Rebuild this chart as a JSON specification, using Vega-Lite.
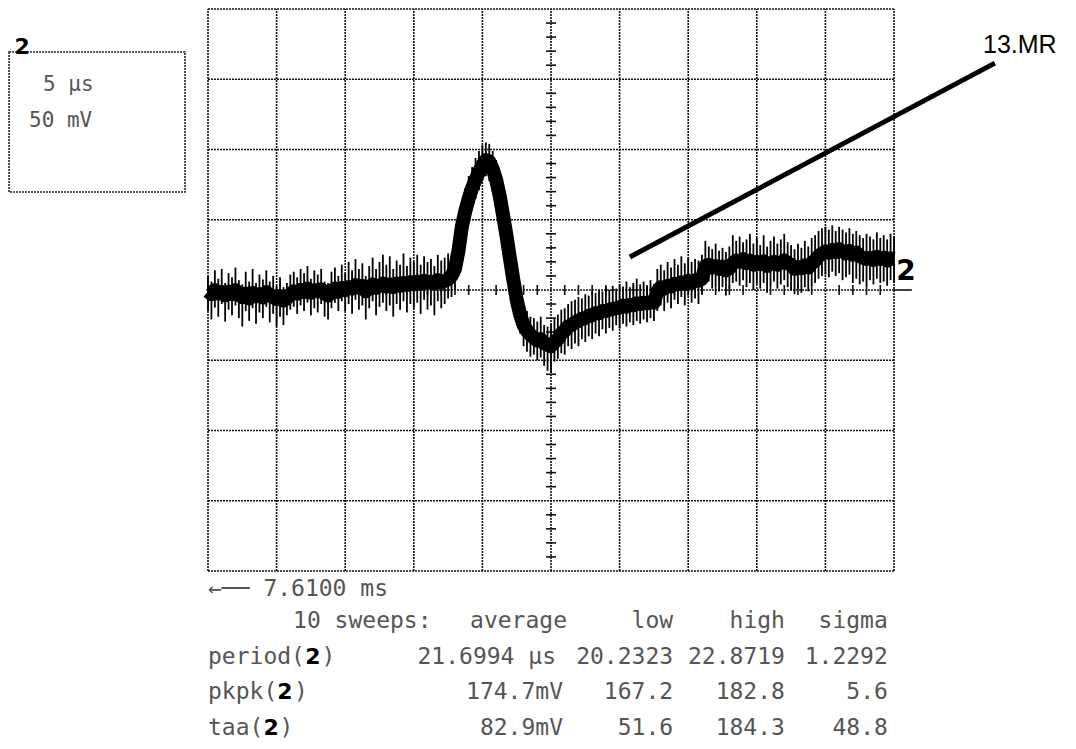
{
  "$schema": "https://vega.github.io/schema/vega-lite/v6.json",
  "width": 1076,
  "height": 749,
  "padding": 0,
  "autosize": {"type": "none"},
  "background": "white",
  "config": {"view": {"stroke": null}},
  "datasets": {
    "grid_v": [{"t":0},{"t":1},{"t":2},{"t":3},{"t":4},{"t":5},{"t":6},{"t":7},{"t":8},{"t":9},{"t":10}],
    "grid_h": [{"v":-4},{"v":-3},{"v":-2},{"v":-1},{"v":0},{"v":1},{"v":2},{"v":3},{"v":4}],
    "ticks_v": [{"v":-3.8},{"v":-3.6},{"v":-3.4},{"v":-3.2},{"v":-2.8},{"v":-2.6},{"v":-2.4},{"v":-2.2},{"v":-1.8},{"v":-1.6},{"v":-1.4},{"v":-1.2},{"v":-0.8},{"v":-0.6},{"v":-0.4},{"v":-0.2},{"v":0.2},{"v":0.4},{"v":0.6},{"v":0.8},{"v":1.2},{"v":1.4},{"v":1.6},{"v":1.8},{"v":2.2},{"v":2.4},{"v":2.6},{"v":2.8},{"v":3.2},{"v":3.4},{"v":3.6},{"v":3.8}],
    "ticks_h": [{"t":0.2},{"t":0.4},{"t":0.6},{"t":0.8},{"t":1.2},{"t":1.4},{"t":1.6},{"t":1.8},{"t":2.2},{"t":2.4},{"t":2.6},{"t":2.8},{"t":3.2},{"t":3.4},{"t":3.6},{"t":3.8},{"t":4.2},{"t":4.4},{"t":4.6},{"t":4.8},{"t":5.2},{"t":5.4},{"t":5.6},{"t":5.8},{"t":6.2},{"t":6.4},{"t":6.6},{"t":6.8},{"t":7.2},{"t":7.4},{"t":7.6},{"t":7.8},{"t":8.2},{"t":8.4},{"t":8.6},{"t":8.8},{"t":9.2},{"t":9.4},{"t":9.6},{"t":9.8}],
    "trace": [
      {"t":0.00,"c":-0.02,"l":-0.30,"h":0.20},{"t":0.05,"c":-0.06,"l":-0.42,"h":0.12},{"t":0.10,"c":0.00,"l":-0.25,"h":0.28},{"t":0.15,"c":-0.05,"l":-0.38,"h":0.16},
      {"t":0.20,"c":-0.03,"l":-0.20,"h":0.30},{"t":0.25,"c":-0.08,"l":-0.45,"h":0.10},{"t":0.30,"c":-0.02,"l":-0.28,"h":0.24},{"t":0.35,"c":-0.06,"l":-0.36,"h":0.18},
      {"t":0.40,"c":0.00,"l":-0.22,"h":0.32},{"t":0.45,"c":-0.07,"l":-0.40,"h":0.14},{"t":0.50,"c":-0.10,"l":-0.52,"h":0.08},{"t":0.55,"c":-0.05,"l":-0.30,"h":0.26},
      {"t":0.60,"c":-0.12,"l":-0.44,"h":0.12},{"t":0.65,"c":-0.04,"l":-0.26,"h":0.30},{"t":0.70,"c":-0.09,"l":-0.48,"h":0.10},{"t":0.75,"c":-0.06,"l":-0.32,"h":0.22},
      {"t":0.80,"c":-0.11,"l":-0.40,"h":0.15},{"t":0.85,"c":-0.03,"l":-0.24,"h":0.28},{"t":0.90,"c":-0.08,"l":-0.46,"h":0.12},{"t":0.95,"c":-0.10,"l":-0.34,"h":0.20},
      {"t":1.00,"c":-0.13,"l":-0.52,"h":0.06},{"t":1.05,"c":-0.09,"l":-0.38,"h":0.18},{"t":1.10,"c":-0.15,"l":-0.50,"h":0.04},{"t":1.15,"c":-0.12,"l":-0.36,"h":0.10},
      {"t":1.20,"c":-0.06,"l":-0.28,"h":0.22},{"t":1.25,"c":-0.02,"l":-0.24,"h":0.26},{"t":1.30,"c":-0.05,"l":-0.34,"h":0.18},{"t":1.35,"c":0.00,"l":-0.22,"h":0.30},
      {"t":1.40,"c":-0.03,"l":-0.30,"h":0.24},{"t":1.45,"c":0.02,"l":-0.18,"h":0.34},{"t":1.50,"c":-0.04,"l":-0.36,"h":0.16},{"t":1.55,"c":0.00,"l":-0.26,"h":0.28},
      {"t":1.60,"c":-0.02,"l":-0.32,"h":0.22},{"t":1.65,"c":0.01,"l":-0.20,"h":0.30},{"t":1.70,"c":-0.05,"l":-0.38,"h":0.12},{"t":1.75,"c":-0.08,"l":-0.42,"h":0.10},
      {"t":1.80,"c":-0.02,"l":-0.26,"h":0.26},{"t":1.85,"c":0.02,"l":-0.18,"h":0.32},{"t":1.90,"c":-0.03,"l":-0.30,"h":0.20},{"t":1.95,"c":0.03,"l":-0.16,"h":0.36},
      {"t":2.00,"c":0.00,"l":-0.30,"h":0.24},{"t":2.05,"c":0.04,"l":-0.20,"h":0.40},{"t":2.10,"c":0.02,"l":-0.34,"h":0.28},{"t":2.15,"c":0.07,"l":-0.14,"h":0.44},
      {"t":2.20,"c":0.03,"l":-0.28,"h":0.30},{"t":2.25,"c":0.06,"l":-0.22,"h":0.38},{"t":2.30,"c":-0.02,"l":-0.42,"h":0.20},{"t":2.35,"c":0.04,"l":-0.26,"h":0.34},
      {"t":2.40,"c":0.08,"l":-0.16,"h":0.46},{"t":2.45,"c":0.03,"l":-0.36,"h":0.30},{"t":2.50,"c":0.06,"l":-0.24,"h":0.40},{"t":2.55,"c":0.09,"l":-0.18,"h":0.50},
      {"t":2.60,"c":0.05,"l":-0.30,"h":0.36},{"t":2.65,"c":0.08,"l":-0.22,"h":0.48},{"t":2.70,"c":0.04,"l":-0.38,"h":0.30},{"t":2.75,"c":0.09,"l":-0.20,"h":0.42},
      {"t":2.80,"c":0.06,"l":-0.28,"h":0.36},{"t":2.85,"c":0.10,"l":-0.16,"h":0.52},{"t":2.90,"c":0.07,"l":-0.32,"h":0.34},{"t":2.95,"c":0.11,"l":-0.20,"h":0.46},
      {"t":3.00,"c":0.08,"l":-0.26,"h":0.40},{"t":3.05,"c":0.12,"l":-0.18,"h":0.50},{"t":3.10,"c":0.09,"l":-0.34,"h":0.36},{"t":3.15,"c":0.13,"l":-0.14,"h":0.48},
      {"t":3.20,"c":0.10,"l":-0.28,"h":0.40},{"t":3.25,"c":0.12,"l":-0.22,"h":0.44},{"t":3.30,"c":0.09,"l":-0.36,"h":0.34},{"t":3.35,"c":0.14,"l":-0.16,"h":0.50},
      {"t":3.40,"c":0.11,"l":-0.26,"h":0.42},{"t":3.45,"c":0.13,"l":-0.20,"h":0.46},{"t":3.50,"c":0.15,"l":-0.12,"h":0.52},{"t":3.55,"c":0.20,"l":-0.10,"h":0.50},
      {"t":3.60,"c":0.30,"l":0.00,"h":0.60},{"t":3.65,"c":0.55,"l":0.20,"h":0.85},{"t":3.70,"c":0.90,"l":0.55,"h":1.20},{"t":3.75,"c":1.12,"l":0.80,"h":1.45},
      {"t":3.80,"c":1.30,"l":1.00,"h":1.62},{"t":3.85,"c":1.45,"l":1.15,"h":1.75},{"t":3.90,"c":1.57,"l":1.30,"h":1.88},{"t":3.95,"c":1.68,"l":1.42,"h":1.98},
      {"t":4.00,"c":1.78,"l":1.55,"h":2.06},{"t":4.05,"c":1.85,"l":1.62,"h":2.10},{"t":4.10,"c":1.83,"l":1.55,"h":2.08},{"t":4.15,"c":1.72,"l":1.40,"h":1.98},
      {"t":4.20,"c":1.57,"l":1.22,"h":1.85},{"t":4.25,"c":1.35,"l":1.00,"h":1.65},{"t":4.30,"c":1.07,"l":0.75,"h":1.40},{"t":4.35,"c":0.78,"l":0.45,"h":1.10},
      {"t":4.40,"c":0.46,"l":0.15,"h":0.78},{"t":4.45,"c":0.15,"l":-0.15,"h":0.45},{"t":4.50,"c":-0.14,"l":-0.42,"h":0.12},{"t":4.55,"c":-0.35,"l":-0.62,"h":-0.08},
      {"t":4.60,"c":-0.50,"l":-0.80,"h":-0.22},{"t":4.65,"c":-0.58,"l":-0.88,"h":-0.30},{"t":4.70,"c":-0.64,"l":-0.95,"h":-0.38},{"t":4.75,"c":-0.68,"l":-0.92,"h":-0.40},
      {"t":4.80,"c":-0.72,"l":-1.00,"h":-0.45},{"t":4.85,"c":-0.70,"l":-0.96,"h":-0.38},{"t":4.90,"c":-0.76,"l":-1.08,"h":-0.50},{"t":4.95,"c":-0.78,"l":-1.15,"h":-0.52},
      {"t":5.00,"c":-0.80,"l":-1.18,"h":-0.48},{"t":5.05,"c":-0.74,"l":-1.02,"h":-0.40},{"t":5.10,"c":-0.70,"l":-0.98,"h":-0.35},{"t":5.15,"c":-0.62,"l":-0.90,"h":-0.28},
      {"t":5.20,"c":-0.58,"l":-0.92,"h":-0.26},{"t":5.25,"c":-0.52,"l":-0.80,"h":-0.20},{"t":5.30,"c":-0.50,"l":-0.84,"h":-0.16},{"t":5.35,"c":-0.46,"l":-0.76,"h":-0.14},
      {"t":5.40,"c":-0.44,"l":-0.80,"h":-0.10},{"t":5.45,"c":-0.41,"l":-0.70,"h":-0.12},{"t":5.50,"c":-0.40,"l":-0.74,"h":-0.06},{"t":5.55,"c":-0.37,"l":-0.66,"h":-0.08},
      {"t":5.60,"c":-0.36,"l":-0.70,"h":-0.02},{"t":5.65,"c":-0.33,"l":-0.62,"h":-0.04},{"t":5.70,"c":-0.33,"l":-0.66,"h":0.00},{"t":5.75,"c":-0.30,"l":-0.56,"h":-0.02},
      {"t":5.80,"c":-0.30,"l":-0.62,"h":0.04},{"t":5.85,"c":-0.28,"l":-0.54,"h":0.00},{"t":5.90,"c":-0.27,"l":-0.58,"h":0.06},{"t":5.95,"c":-0.26,"l":-0.50,"h":0.02},
      {"t":6.00,"c":-0.25,"l":-0.55,"h":0.08},{"t":6.05,"c":-0.22,"l":-0.48,"h":0.05},{"t":6.10,"c":-0.24,"l":-0.52,"h":0.12},{"t":6.15,"c":-0.21,"l":-0.46,"h":0.04},
      {"t":6.20,"c":-0.22,"l":-0.50,"h":0.10},{"t":6.25,"c":-0.19,"l":-0.44,"h":0.16},{"t":6.30,"c":-0.20,"l":-0.48,"h":0.08},{"t":6.35,"c":-0.18,"l":-0.42,"h":0.12},
      {"t":6.40,"c":-0.19,"l":-0.46,"h":0.06},{"t":6.45,"c":-0.17,"l":-0.40,"h":0.14},{"t":6.50,"c":-0.18,"l":-0.44,"h":0.08},{"t":6.55,"c":-0.02,"l":-0.30,"h":0.30},
      {"t":6.60,"c":0.04,"l":-0.22,"h":0.36},{"t":6.65,"c":0.02,"l":-0.30,"h":0.28},{"t":6.70,"c":0.06,"l":-0.18,"h":0.40},{"t":6.75,"c":0.05,"l":-0.26,"h":0.32},
      {"t":6.80,"c":0.09,"l":-0.14,"h":0.44},{"t":6.85,"c":0.08,"l":-0.20,"h":0.36},{"t":6.90,"c":0.11,"l":-0.10,"h":0.48},{"t":6.95,"c":0.09,"l":-0.22,"h":0.38},
      {"t":7.00,"c":0.13,"l":-0.08,"h":0.46},{"t":7.05,"c":0.10,"l":-0.18,"h":0.40},{"t":7.10,"c":0.14,"l":-0.12,"h":0.44},{"t":7.15,"c":0.13,"l":-0.20,"h":0.42},
      {"t":7.20,"c":0.16,"l":-0.06,"h":0.50},{"t":7.25,"c":0.34,"l":0.08,"h":0.70},{"t":7.30,"c":0.36,"l":0.12,"h":0.62},{"t":7.35,"c":0.32,"l":0.02,"h":0.58},
      {"t":7.40,"c":0.34,"l":0.06,"h":0.66},{"t":7.45,"c":0.30,"l":-0.02,"h":0.56},{"t":7.50,"c":0.33,"l":0.04,"h":0.60},{"t":7.55,"c":0.28,"l":-0.08,"h":0.54},
      {"t":7.60,"c":0.31,"l":0.02,"h":0.62},{"t":7.65,"c":0.38,"l":0.10,"h":0.78},{"t":7.70,"c":0.42,"l":0.12,"h":0.70},{"t":7.75,"c":0.40,"l":0.06,"h":0.76},
      {"t":7.80,"c":0.44,"l":0.14,"h":0.68},{"t":7.85,"c":0.38,"l":0.04,"h":0.72},{"t":7.90,"c":0.42,"l":0.10,"h":0.80},{"t":7.95,"c":0.36,"l":0.00,"h":0.66},
      {"t":8.00,"c":0.40,"l":0.08,"h":0.74},{"t":8.05,"c":0.37,"l":0.02,"h":0.64},{"t":8.10,"c":0.41,"l":0.10,"h":0.78},{"t":8.15,"c":0.34,"l":-0.04,"h":0.62},
      {"t":8.20,"c":0.38,"l":0.06,"h":0.70},{"t":8.25,"c":0.40,"l":0.12,"h":0.76},{"t":8.30,"c":0.36,"l":0.02,"h":0.66},{"t":8.35,"c":0.39,"l":0.08,"h":0.72},
      {"t":8.40,"c":0.42,"l":0.14,"h":0.80},{"t":8.45,"c":0.38,"l":0.04,"h":0.68},{"t":8.50,"c":0.36,"l":0.00,"h":0.64},{"t":8.55,"c":0.30,"l":-0.06,"h":0.58},
      {"t":8.60,"c":0.33,"l":0.02,"h":0.66},{"t":8.65,"c":0.31,"l":-0.04,"h":0.60},{"t":8.70,"c":0.35,"l":0.04,"h":0.70},{"t":8.75,"c":0.32,"l":-0.02,"h":0.62},
      {"t":8.80,"c":0.38,"l":0.06,"h":0.74},{"t":8.85,"c":0.42,"l":0.10,"h":0.78},{"t":8.90,"c":0.48,"l":0.16,"h":0.84},{"t":8.95,"c":0.52,"l":0.20,"h":0.88},
      {"t":9.00,"c":0.55,"l":0.22,"h":0.90},{"t":9.05,"c":0.53,"l":0.18,"h":0.86},{"t":9.10,"c":0.57,"l":0.26,"h":0.92},{"t":9.15,"c":0.54,"l":0.20,"h":0.84},
      {"t":9.20,"c":0.58,"l":0.24,"h":0.90},{"t":9.25,"c":0.55,"l":0.14,"h":0.86},{"t":9.30,"c":0.52,"l":0.18,"h":0.82},{"t":9.35,"c":0.56,"l":0.22,"h":0.88},
      {"t":9.40,"c":0.50,"l":0.10,"h":0.80},{"t":9.45,"c":0.53,"l":0.16,"h":0.84},{"t":9.50,"c":0.48,"l":0.08,"h":0.78},{"t":9.55,"c":0.46,"l":0.12,"h":0.74},
      {"t":9.60,"c":0.44,"l":0.06,"h":0.80},{"t":9.65,"c":0.46,"l":0.14,"h":0.76},{"t":9.70,"c":0.43,"l":0.08,"h":0.72},{"t":9.75,"c":0.47,"l":0.16,"h":0.82},
      {"t":9.80,"c":0.44,"l":0.10,"h":0.74},{"t":9.85,"c":0.46,"l":0.12,"h":0.78},{"t":9.90,"c":0.42,"l":0.06,"h":0.72},{"t":9.95,"c":0.45,"l":0.14,"h":0.80},
      {"t":10.00,"c":0.44,"l":0.10,"h":0.76}
    ],
    "leader": [{"t":6.15,"v":0.47,"t2":11.47,"v2":3.23}],
    "ext": [{"t":10,"v":0,"t2":10.26}],
    "box": [{"t":-2.90,"v":3.388,"t2":-0.335,"v2":1.395}],
    "box_text": [{"t":-2.405,"v":2.918,"s":"5 µs"},{"t":-2.609,"v":2.406,"s":"50 mV"}],
    "text_left": [
      {"t":0,"v":-4.256,"s":"←── 7.6100 ms"},
      {"t":1.24,"v":-4.712,"s":"10 sweeps:"},
      {"t":0,"v":-5.224,"s":"period("},
      {"t":1.655,"v":-5.224,"s":")"},
      {"t":0,"v":-5.722,"s":"pkpk("},
      {"t":1.254,"v":-5.722,"s":")"},
      {"t":0,"v":-6.235,"s":"taa("},
      {"t":1.043,"v":-6.235,"s":")"}
    ],
    "text_right": [
      {"t":5.233,"v":-4.712,"s":"average"},{"t":5.073,"v":-5.224,"s":"21.6994 µs"},{"t":5.175,"v":-5.722,"s":"174.7mV"},{"t":5.175,"v":-6.235,"s":"82.9mV"},
      {"t":6.78,"v":-4.712,"s":"low"},{"t":6.78,"v":-5.224,"s":"20.2323"},{"t":6.78,"v":-5.722,"s":"167.2"},{"t":6.78,"v":-6.235,"s":"51.6"},
      {"t":8.41,"v":-4.712,"s":"high"},{"t":8.41,"v":-5.224,"s":"22.8719"},{"t":8.41,"v":-5.722,"s":"182.8"},{"t":8.41,"v":-6.235,"s":"184.3"},
      {"t":9.91,"v":-4.712,"s":"sigma"},{"t":9.91,"v":-5.224,"s":"1.2292"},{"t":9.91,"v":-5.722,"s":"5.6"},{"t":9.91,"v":-6.235,"s":"48.8"}
    ],
    "bold2": [{"t":1.531,"v":-5.224,"s":"2"},{"t":1.122,"v":-5.722,"s":"2"},{"t":0.921,"v":-6.235,"s":"2"},{"t":-2.71,"v":3.46,"s":"2"}],
    "marker2": [{"t":10.175,"v":0.256,"s":"2"}],
    "callout": [{"t":11.297,"v":3.374,"s":"13.MR"}]
  },
  "layer": [
    {
      "data": {"name": "grid_v"},
      "mark": {"type": "rule", "color": "#111", "strokeWidth": 1.6, "strokeDash": [2, 1]},
      "encoding": {
        "x": {"field": "t", "type": "quantitative", "scale": {"domain": [-3.032, 12.653], "nice": false, "zero": false}, "axis": null},
        "y": {"datum": -4, "type": "quantitative", "scale": {"domain": [-6.534, 4.128], "nice": false, "zero": false}, "axis": null},
        "y2": {"datum": 4}
      }
    },
    {
      "data": {"name": "grid_h"},
      "mark": {"type": "rule", "color": "#111", "strokeWidth": 1.6, "strokeDash": [2, 1]},
      "encoding": {
        "y": {"field": "v", "type": "quantitative", "scale": {"domain": [-6.534, 4.128], "nice": false, "zero": false}, "axis": null},
        "x": {"datum": 0, "type": "quantitative", "scale": {"domain": [-3.032, 12.653], "nice": false, "zero": false}, "axis": null},
        "x2": {"datum": 10}
      }
    },
    {
      "data": {"name": "ext"},
      "mark": {"type": "rule", "color": "#111", "strokeWidth": 1.6},
      "encoding": {
        "x": {"field": "t", "type": "quantitative", "scale": {"domain": [-3.032, 12.653], "nice": false, "zero": false}, "axis": null},
        "x2": {"field": "t2"},
        "y": {"field": "v", "type": "quantitative", "scale": {"domain": [-6.534, 4.128], "nice": false, "zero": false}, "axis": null}
      }
    },
    {
      "data": {"name": "ticks_v"},
      "mark": {"type": "point", "shape": "M-1,0L1,0", "size": 100, "filled": false, "color": "#111", "strokeWidth": 1.6, "opacity": 1},
      "encoding": {
        "y": {"field": "v", "type": "quantitative", "scale": {"domain": [-6.534, 4.128], "nice": false, "zero": false}, "axis": null},
        "x": {"datum": 5, "type": "quantitative", "scale": {"domain": [-3.032, 12.653], "nice": false, "zero": false}, "axis": null}
      }
    },
    {
      "data": {"name": "ticks_h"},
      "mark": {"type": "point", "shape": "M0,-1L0,1", "size": 100, "filled": false, "color": "#111", "strokeWidth": 1.6, "opacity": 1},
      "encoding": {
        "x": {"field": "t", "type": "quantitative", "scale": {"domain": [-3.032, 12.653], "nice": false, "zero": false}, "axis": null},
        "y": {"datum": 0, "type": "quantitative", "scale": {"domain": [-6.534, 4.128], "nice": false, "zero": false}, "axis": null}
      }
    },
    {
      "data": {"name": "trace"},
      "mark": {"type": "rule", "color": "black", "strokeWidth": 1.8},
      "encoding": {
        "x": {"field": "t", "type": "quantitative", "scale": {"domain": [-3.032, 12.653], "nice": false, "zero": false}, "axis": null},
        "y": {"field": "l", "type": "quantitative", "scale": {"domain": [-6.534, 4.128], "nice": false, "zero": false}, "axis": null},
        "y2": {"field": "h"}
      }
    },
    {
      "data": {"name": "trace"},
      "mark": {"type": "line", "color": "black", "strokeWidth": 14, "strokeJoin": "round", "strokeCap": "butt"},
      "encoding": {
        "x": {"field": "t", "type": "quantitative", "scale": {"domain": [-3.032, 12.653], "nice": false, "zero": false}, "axis": null},
        "y": {"field": "c", "type": "quantitative", "scale": {"domain": [-6.534, 4.128], "nice": false, "zero": false}, "axis": null}
      }
    },
    {
      "data": {"name": "leader"},
      "mark": {"type": "rule", "color": "black", "strokeWidth": 5},
      "encoding": {
        "x": {"field": "t", "type": "quantitative", "scale": {"domain": [-3.032, 12.653], "nice": false, "zero": false}, "axis": null},
        "x2": {"field": "t2"},
        "y": {"field": "v", "type": "quantitative", "scale": {"domain": [-6.534, 4.128], "nice": false, "zero": false}, "axis": null},
        "y2": {"field": "v2"}
      }
    },
    {
      "data": {"name": "box"},
      "mark": {"type": "rect", "fill": null, "fillOpacity": 0, "stroke": "#222", "strokeWidth": 1.6, "strokeDash": [2, 1]},
      "encoding": {
        "x": {"field": "t", "type": "quantitative", "scale": {"domain": [-3.032, 12.653], "nice": false, "zero": false}, "axis": null},
        "x2": {"field": "t2"},
        "y": {"field": "v", "type": "quantitative", "scale": {"domain": [-6.534, 4.128], "nice": false, "zero": false}, "axis": null},
        "y2": {"field": "v2"}
      }
    },
    {
      "data": {"name": "box_text"},
      "mark": {"type": "text", "font": "DejaVu Sans Mono", "fontSize": 21, "align": "left", "baseline": "middle", "color": "#555"},
      "encoding": {
        "x": {"field": "t", "type": "quantitative", "scale": {"domain": [-3.032, 12.653], "nice": false, "zero": false}, "axis": null},
        "y": {"field": "v", "type": "quantitative", "scale": {"domain": [-6.534, 4.128], "nice": false, "zero": false}, "axis": null},
        "text": {"field": "s"}
      }
    },
    {
      "data": {"name": "text_left"},
      "mark": {"type": "text", "font": "DejaVu Sans Mono", "fontSize": 23, "align": "left", "baseline": "middle", "color": "#555"},
      "encoding": {
        "x": {"field": "t", "type": "quantitative", "scale": {"domain": [-3.032, 12.653], "nice": false, "zero": false}, "axis": null},
        "y": {"field": "v", "type": "quantitative", "scale": {"domain": [-6.534, 4.128], "nice": false, "zero": false}, "axis": null},
        "text": {"field": "s"}
      }
    },
    {
      "data": {"name": "text_right"},
      "mark": {"type": "text", "font": "DejaVu Sans Mono", "fontSize": 23, "align": "right", "baseline": "middle", "color": "#555"},
      "encoding": {
        "x": {"field": "t", "type": "quantitative", "scale": {"domain": [-3.032, 12.653], "nice": false, "zero": false}, "axis": null},
        "y": {"field": "v", "type": "quantitative", "scale": {"domain": [-6.534, 4.128], "nice": false, "zero": false}, "axis": null},
        "text": {"field": "s"}
      }
    },
    {
      "data": {"name": "bold2"},
      "mark": {"type": "text", "font": "DejaVu Sans", "fontSize": 22, "fontWeight": "bold", "align": "center", "baseline": "middle", "color": "black"},
      "encoding": {
        "x": {"field": "t", "type": "quantitative", "scale": {"domain": [-3.032, 12.653], "nice": false, "zero": false}, "axis": null},
        "y": {"field": "v", "type": "quantitative", "scale": {"domain": [-6.534, 4.128], "nice": false, "zero": false}, "axis": null},
        "text": {"field": "s"}
      }
    },
    {
      "data": {"name": "marker2"},
      "mark": {"type": "text", "font": "DejaVu Sans", "fontSize": 28, "fontWeight": "bold", "align": "center", "baseline": "middle", "color": "black"},
      "encoding": {
        "x": {"field": "t", "type": "quantitative", "scale": {"domain": [-3.032, 12.653], "nice": false, "zero": false}, "axis": null},
        "y": {"field": "v", "type": "quantitative", "scale": {"domain": [-6.534, 4.128], "nice": false, "zero": false}, "axis": null},
        "text": {"field": "s"}
      }
    },
    {
      "data": {"name": "callout"},
      "mark": {"type": "text", "font": "Liberation Sans", "fontSize": 25, "align": "left", "baseline": "alphabetic", "color": "black"},
      "encoding": {
        "x": {"field": "t", "type": "quantitative", "scale": {"domain": [-3.032, 12.653], "nice": false, "zero": false}, "axis": null},
        "y": {"field": "v", "type": "quantitative", "scale": {"domain": [-6.534, 4.128], "nice": false, "zero": false}, "axis": null},
        "text": {"field": "s"}
      }
    }
  ]
}
